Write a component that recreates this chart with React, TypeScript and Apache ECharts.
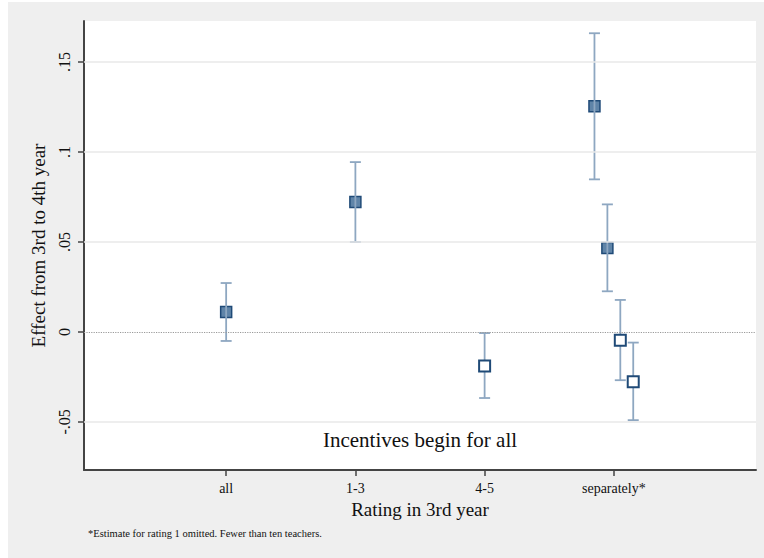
import React, { useEffect, useRef } from "react";
import * as echarts from "echarts";

// ---- data ----
const categories = ["all", "1-3", "4-5", "separately*"];
const categoryPositions = [1, 2, 3, 4];

const yTickValues = [-0.05, 0, 0.05, 0.1, 0.15];
const yTickLabels = ["-.05", "0", ".05", ".1", ".15"];

// estimates: x position, point estimate, lower CI, upper CI
const pointX = [1, 2, 3, 3.85, 3.95, 4.05, 4.15];
const estimates = [0.0111, 0.0722, -0.0189, 0.1254, 0.0467, -0.0046, -0.0276];
const lowerCI = [-0.005, 0.05, -0.0367, 0.0848, 0.0226, -0.0268, -0.049];
const upperCI = [0.0272, 0.0944, -0.0006, 0.166, 0.0709, 0.0178, -0.0059];
const filled = [true, true, false, true, true, false, false];

const yTitle = "Effect from 3rd to 4th year";
const xTitle = "Rating in 3rd year";
const panelNote = "Incentives begin for all";
const footnote = "*Estimate for rating 1 omitted. Fewer than ten teachers.";

const FONT = "'Liberation Serif', 'Times New Roman', serif";

export default function App() {
  const ref = useRef<HTMLDivElement>(null);

  useEffect(() => {
    if (!ref.current) return;
    const chart = echarts.init(ref.current, undefined, { renderer: "svg" });

    const filledData: number[][] = [];
    const hollowData: number[][] = [];
    const errData: number[][] = [];
    pointX.forEach((x, i) => {
      (filled[i] ? filledData : hollowData).push([x, estimates[i]]);
      errData.push([x, lowerCI[i], upperCI[i]]);
    });

    const markerBorder = "#1f4a77";
    const barColor = "#8ea7c1";

    const option: any = {
      animation: false,
      backgroundColor: "#efefef",
      textStyle: { fontFamily: FONT },
      grid: {
        left: 76,
        top: 19,
        right: 8,
        bottom: 88,
        show: true,
        backgroundColor: "#ffffff",
        borderWidth: 0,
      },
      xAxis: {
        type: "value",
        min: -0.1,
        max: 5.1,
        name: xTitle,
        nameLocation: "middle",
        nameGap: 28,
        nameTextStyle: { fontFamily: FONT, fontSize: 19, color: "#111" },
        axisLine: { show: true, onZero: false, lineStyle: { color: "#444", width: 2 } },
        axisTick: {
          show: true,
          customValues: categoryPositions,
          length: 6,
          lineStyle: { color: "#444", width: 1.5 },
        },
        axisLabel: {
          customValues: categoryPositions,
          margin: 11,
          fontFamily: FONT,
          fontSize: 14,
          color: "#111",
          formatter: (v: number) => {
            const i = categoryPositions.findIndex((p) => Math.abs(p - v) < 1e-9);
            return i >= 0 ? categories[i] : "";
          },
        },
        splitLine: { show: false },
      },
      yAxis: {
        type: "value",
        min: -0.0767,
        max: 0.1728,
        name: yTitle,
        nameLocation: "middle",
        nameGap: 35,
        nameRotate: 90,
        nameTextStyle: { fontFamily: FONT, fontSize: 19, color: "#111" },
        axisLine: { show: true, onZero: false, lineStyle: { color: "#444", width: 2 } },
        axisTick: {
          show: true,
          customValues: yTickValues,
          length: 6,
          lineStyle: { color: "#444", width: 1.5 },
        },
        axisLabel: {
          customValues: yTickValues,
          rotate: 90,
          margin: 12,
          fontFamily: FONT,
          fontSize: 16,
          color: "#111",
          formatter: (v: number) => {
            const i = yTickValues.findIndex((t) => Math.abs(t - v) < 1e-9);
            return i >= 0 ? yTickLabels[i] : "";
          },
        },
        splitLine: { show: false },
      },
      series: [
        {
          type: "scatter",
          data: [],
          silent: true,
          z: 0,
          markLine: {
            silent: true,
            symbol: "none",
            label: { show: false },
            data: yTickValues.map((v) => ({
              yAxis: v,
              lineStyle:
                v === 0
                  ? { type: "dotted", color: "#9a9a9a", width: 1.2 }
                  : { type: "solid", color: "#e8e8e8", width: 1.5 },
            })),
          },
        },
        {
          type: "scatter",
          name: "filled",
          z: 2,
          symbol: "rect",
          symbolSize: 11,
          data: filledData,
          itemStyle: { color: "#5f84a8", borderColor: markerBorder, borderWidth: 1.5, opacity: 1 },
        },
        {
          type: "custom",
          name: "ci",
          z: 3,
          data: errData,
          encode: { x: 0, y: [1, 2] },
          renderItem: (params: any, api: any) => {
            const x = api.value(0);
            const lo = api.coord([x, api.value(1)]);
            const hi = api.coord([x, api.value(2)]);
            const hw = 5.5;
            const style = { stroke: barColor, lineWidth: 1.8 };
            return {
              type: "group",
              children: [
                { type: "line", shape: { x1: lo[0], y1: lo[1], x2: hi[0], y2: hi[1] }, style },
                { type: "line", shape: { x1: lo[0] - hw, y1: lo[1], x2: lo[0] + hw, y2: lo[1] }, style },
                { type: "line", shape: { x1: hi[0] - hw, y1: hi[1], x2: hi[0] + hw, y2: hi[1] }, style },
              ],
            };
          },
        },
        {
          type: "scatter",
          name: "hollow",
          z: 4,
          symbol: "rect",
          symbolSize: 11,
          data: hollowData,
          itemStyle: { color: "#ffffff", borderColor: markerBorder, borderWidth: 2, opacity: 1 },
        },
      ],
      graphic: [
        {
          type: "text",
          x: 412,
          y: 438,
          z: 10,
          style: {
            text: panelNote,
            fontFamily: FONT,
            fontSize: 21,
            fill: "#111",
            textAlign: "center",
            textVerticalAlign: "middle",
          },
        },
        {
          type: "text",
          x: 80,
          y: 531,
          z: 10,
          style: {
            text: footnote,
            fontFamily: FONT,
            fontSize: 10.5,
            fill: "#111",
            textAlign: "left",
            textVerticalAlign: "middle",
          },
        },
      ],
    };

    chart.setOption(option);
    return () => chart.dispose();
  }, []);

  return (
    <div
      style={{
        position: "fixed",
        left: 0,
        top: 0,
        width: 764,
        height: 558,
        background: "#ffffff",
      }}
    >
      <div
        ref={ref}
        style={{ position: "absolute", left: 8, top: 2, width: 756, height: 556 }}
      />
    </div>
  );
}
